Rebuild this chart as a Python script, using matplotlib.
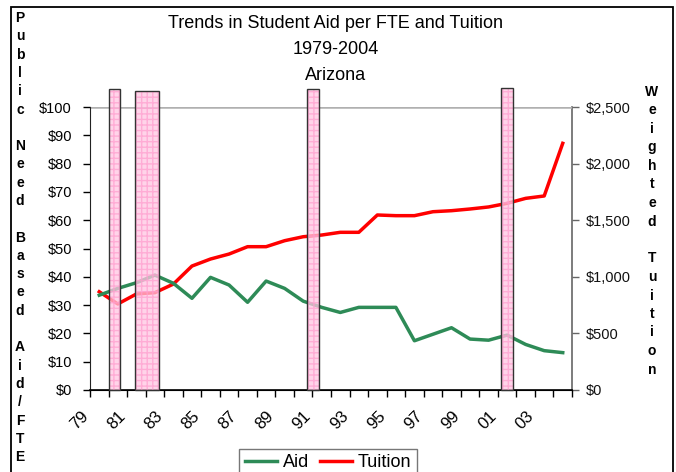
import matplotlib
matplotlib.use("Agg")
import matplotlib.pyplot as plt
from matplotlib.patches import Rectangle
from matplotlib.transforms import ScaledTranslation

plt.rcParams['font.family'] = ['Liberation Sans', 'DejaVu Sans']

# data
years = list(range(1979, 2005))
aid = [33.5, 35.9, 37.9, 40.6, 37.7, 32.4, 39.8, 37.1, 31.0, 38.5, 35.9, 31.4, 29.2,
       27.4, 29.2, 29.2, 29.2, 17.4, 19.7, 22.0, 18.0, 17.6, 19.4, 16.1, 13.9, 13.2]
tuition = [868, 760, 848, 860, 936, 1095, 1157, 1201, 1266, 1266, 1319, 1354, 1369,
           1393, 1393, 1546, 1540, 1540, 1575, 1584, 1599, 1617, 1649, 1693, 1714, 2179]
tick_years = list(range(1979, 2005, 2))
tick_labels = ['%02d' % (y % 100) for y in tick_years]

# recession periods (shaded bars)
rec_start = [1980.0, 1981.45, 1990.7, 2001.15]
rec_end = [1980.6, 1982.7, 1991.37, 2001.83]
rec_top = [106.5, 105.8, 106.5, 106.7]

fig = plt.figure(figsize=(6.76, 4.72), dpi=100)
W, H = 676, 472
ax = fig.add_axes([90 / W, 1 - 390 / H, (572 - 90) / W, (390 - 107) / H])
ax2 = ax.twinx()
ax.set_zorder(ax2.get_zorder() + 1)
ax.patch.set_visible(False)

x = [y + 0.5 for y in years]
l1, = ax.plot(x, aid, color='#2e8b57', lw=2.5, label='Aid', zorder=2)
l2, = ax2.plot(x, tuition, color='#ff0000', lw=2.5, label='Tuition')

widths = [e - s for s, e in zip(rec_start, rec_end)]
ax.bar(rec_start, rec_top, width=widths, align='edge', color='#ffc6e2', alpha=0.75,
       hatch='+++', edgecolor='#ff9fcf', lw=0, clip_on=False, zorder=3)
ax.bar(rec_start, rec_top, width=widths, align='edge', fill=False,
       edgecolor='#333333', lw=1.0, clip_on=False, zorder=4)

ax.axhline(100, color='#b0b0b0', lw=1.8, zorder=1)

ax.set_xlim(1979, 2005)
ax.set_ylim(0, 100)
ax2.set_ylim(0, 2500)
ax.set_yticks(range(0, 101, 10))
ax.set_yticklabels(['$%d' % v for v in range(0, 101, 10)], fontsize=10.5)
ax2.set_yticks(range(0, 2501, 500))
ax2.set_yticklabels(['${:,}'.format(v) for v in range(0, 2501, 500)], fontsize=10.5)
ax.set_xticks(range(1979, 2006))
ax.set_xticklabels([])
ax.tick_params(axis='x', length=5, width=1, direction='out')
ax.tick_params(axis='y', length=5, width=1, direction='out', pad=8)
ax2.tick_params(axis='y', length=5, width=1, direction='out', pad=5,
                labelcolor='#111111', color='#666666')

for a in (ax, ax2):
    a.spines['top'].set_visible(False)
ax.spines['left'].set_color('#222222')
ax.spines['right'].set_visible(False)
ax2.spines['left'].set_visible(False)
ax2.spines['right'].set_color('#666666')
ax2.spines['right'].set_linewidth(1.2)
ax.spines['bottom'].set_linewidth(1.2)

# rotated year labels
off = ScaledTranslation(-0.13, -0.24, fig.dpi_scale_trans)
for ty, lab in zip(tick_years, tick_labels):
    ax.text(ty + 0.5, 0, lab, transform=ax.get_xaxis_transform() + off,
            rotation=45, ha='right', va='center', rotation_mode='anchor',
            fontsize=12)

# titles
fig.text(336 / W, 1 - 24 / H, 'Trends in Student Aid per FTE and Tuition',
         ha='center', va='center', fontsize=13)
fig.text(336 / W, 1 - 49 / H, '1979-2004', ha='center', va='center', fontsize=13)
fig.text(336 / W, 1 - 75 / H, 'Arizona', ha='center', va='center', fontsize=13)

# stacked axis titles
left_title = 'Public Need Based Aid/FTE'
for i, ch in enumerate(left_title):
    fig.text(20 / W, 1 - (18 + i * 18.3) / H, ch, ha='center', va='center',
             fontsize=10, fontweight='bold')
right_title = 'Weighted Tuition'
for i, ch in enumerate(right_title):
    fig.text(652 / W, 1 - (92 + i * 18.5) / H, ch, ha='center', va='center',
             fontsize=10, fontweight='bold')

leg = fig.legend([l1, l2], ['Aid', 'Tuition'], loc='upper center', ncol=2,
                 bbox_to_anchor=(328 / W, 1 - 449 / H), frameon=True, fancybox=False,
                 fontsize=13, handlelength=1.8, handletextpad=0.3, columnspacing=0.6,
                 borderpad=0.3, borderaxespad=0)
leg.get_frame().set_edgecolor('#555555')
leg.get_frame().set_linewidth(1.0)

fig.patches.append(Rectangle((11 / W, -0.1), (673 - 11) / W, 1.1 - 7 / H,
                             transform=fig.transFigure, fill=False,
                             edgecolor='black', lw=1.3))

fig.savefig('out.png', dpi=100)
